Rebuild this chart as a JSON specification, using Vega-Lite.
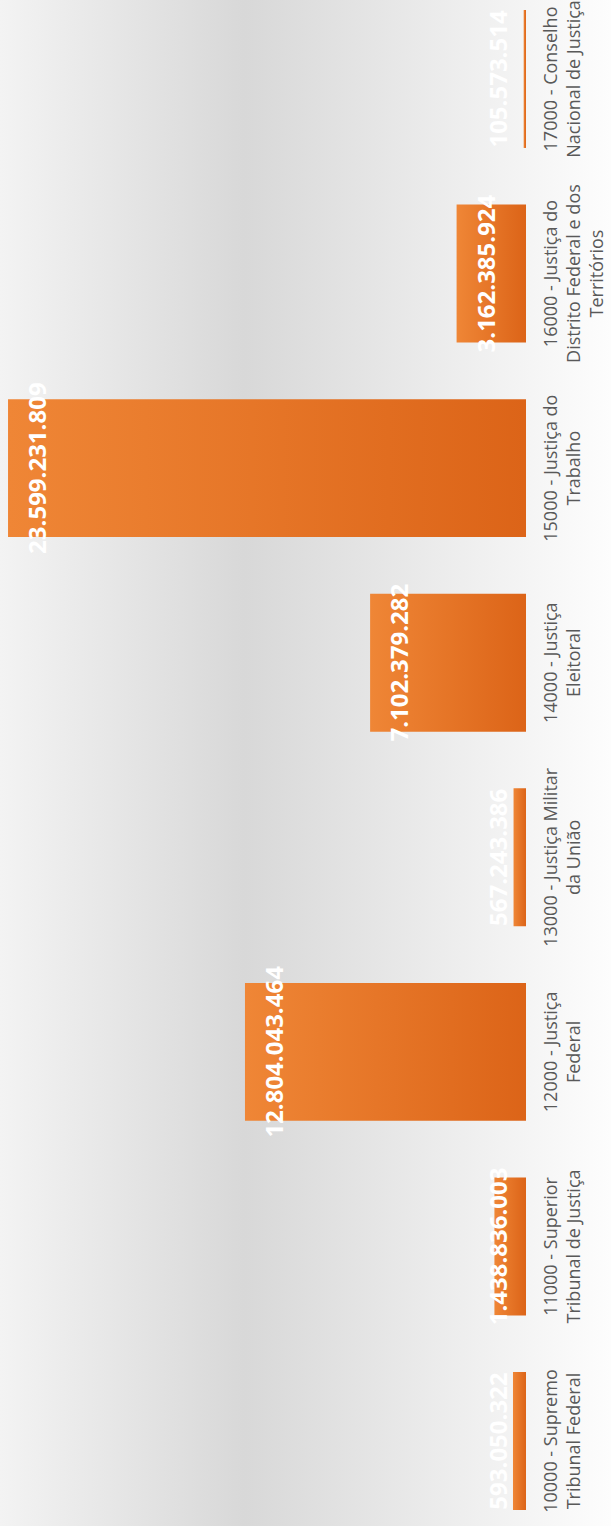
{
  "$schema": "https://vega.github.io/schema/vega-lite/v6.json",
  "width": 611,
  "height": 1526,
  "autosize": {"type": "none"},
  "padding": 0,
  "config": {
    "view": {"stroke": null},
    "locale": {"number": {"decimal": ",", "thousands": ".", "grouping": [3], "currency": ["R$", ""]}}
  },
  "data": {
    "values": [
      {"cat": "10000 - Supremo\nTribunal Federal", "value": 593050322},
      {"cat": "11000 - Superior\nTribunal de Justiça", "value": 1438836003},
      {"cat": "12000 - Justiça\nFederal", "value": 12804043464},
      {"cat": "13000 - Justiça Militar\nda União", "value": 567243386},
      {"cat": "14000 - Justiça\nEleitoral", "value": 7102379282},
      {"cat": "15000 - Justiça do\nTrabalho", "value": 23599231809},
      {"cat": "16000 - Justiça do\nDistrito Federal e dos\nTerritórios", "value": 3162385924},
      {"cat": "17000 - Conselho\nNacional de Justiça", "value": 105573514}
    ]
  },
  "layer": [
    {
      "data": {"values": [{}]},
      "mark": {
        "type": "rect",
        "fill": {
          "gradient": "linear", "x1": 0, "y1": 0, "x2": 1, "y2": 0,
          "stops": [
            {"offset": 0, "color": "#f3f3f3"},
            {"offset": 0.4, "color": "#d8d8d8"},
            {"offset": 1, "color": "#fdfdfd"}
          ]
        }
      },
      "encoding": {}
    },
    {
      "mark": {
        "type": "bar",
        "fill": {
          "gradient": "linear", "x1": 0, "y1": 0, "x2": 1, "y2": 0,
          "stops": [
            {"offset": 0, "color": "#ef8636"},
            {"offset": 1, "color": "#dc6418"}
          ]
        }
      },
      "encoding": {
        "y": {
          "field": "cat", "type": "nominal", "sort": "descending",
          "scale": {"paddingInner": 0.291, "paddingOuter": 0.0668, "align": 0.385},
          "axis": {
            "orient": "right", "offset": -85, "domain": false, "ticks": false, "tickSize": 0, "grid": false,
            "zindex": 1,
            "title": null, "labelAngle": 270, "labelAlign": "center", "labelBaseline": "top",
            "labelPadding": 16, "labelFont": "Open Sans", "labelFontSize": 18, "labelColor": "#595959",
            "labelLineHeight": 23, "labelLimit": 0, "labelOverlap": false,
            "labelExpr": "split(datum.label, '\\n')"
          }
        },
        "x": {
          "field": "value", "type": "quantitative",
          "scale": {"domain": [0, 23965000000], "range": [526, 0], "nice": false, "zero": true},
          "axis": null
        }
      }
    },
    {
      "mark": {
        "type": "text", "angle": 270, "align": "center", "baseline": "alphabetic", "dy": 38,
        "font": "Open Sans", "fontWeight": "bold", "fontSize": 24, "color": "#ffffff"
      },
      "encoding": {
        "y": {"field": "cat", "type": "nominal", "sort": "descending"},
        "x": {
          "field": "value", "type": "quantitative",
          "scale": {"domain": [2597000000, 23965000000], "range": [469, 0], "nice": false, "zero": false, "clamp": true},
          "axis": null
        },
        "text": {"field": "value", "type": "quantitative", "format": ",d"}
      }
    }
  ],
  "resolve": {"scale": {"x": "independent"}}
}
